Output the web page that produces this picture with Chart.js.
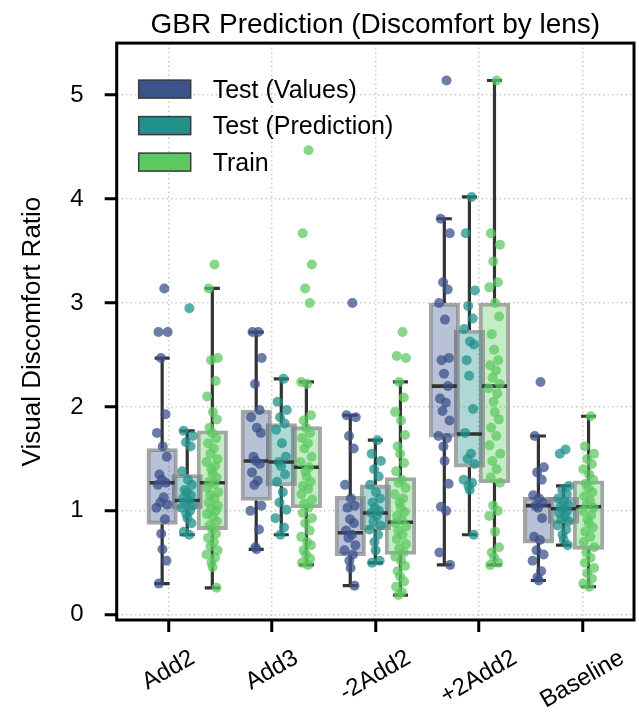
<!DOCTYPE html>
<html>
<head>
<meta charset="utf-8">
<script src="https://cdn.jsdelivr.net/npm/chart.js@4.4.1/dist/chart.umd.min.js"></script>
<style>
html,body{margin:0;padding:0;background:#ffffff;}
#wrap{width:639px;height:720px;position:relative;}
</style>
</head>
<body>
<div id="wrap"><canvas id="c" width="639" height="720"></canvas></div>
<script>
// ---------------- DATA ----------------
const TITLE = 'GBR Prediction (Discomfort by lens)';
const Y_LABEL = 'Visual Discomfort Ratio';
const CATEGORIES = ['Add2', 'Add3', '-2Add2', '+2Add2', 'Baseline'];
const HUES = ['Test (Values)', 'Test (Prediction)', 'Train'];
const Y_TICKS = [0, 1, 2, 3, 4, 5];

// box statistics per category: [whisker low, q1, median, q3, whisker high]
const boxValues = [
  [0.30, 0.87, 1.27, 1.60, 2.47],
  [0.63, 1.10, 1.48, 1.97, 2.72],
  [0.28, 0.57, 0.79, 1.14, 1.92],
  [0.48, 1.71, 2.20, 3.00, 3.81],
  [0.33, 0.69, 1.05, 1.13, 1.72]
];
const boxPrediction = [
  [0.77, 1.02, 1.10, 1.35, 1.77],
  [0.77, 1.24, 1.47, 1.84, 2.27],
  [0.50, 0.82, 0.98, 1.25, 1.68],
  [0.77, 1.42, 1.74, 2.74, 4.02],
  [0.67, 0.88, 1.02, 1.13, 1.24]
];
const boxTrain = [
  [0.26, 0.82, 1.27, 1.77, 3.14],
  [0.48, 1.03, 1.42, 1.81, 2.24],
  [0.19, 0.58, 0.89, 1.32, 2.24],
  [0.48, 1.27, 2.20, 3.00, 5.14],
  [0.27, 0.63, 1.04, 1.29, 1.91]
];

// individual observations per category
const pointsValues = [
  [3.14, 2.72, 2.72, 2.47, 1.93, 1.75, 1.62, 1.52, 1.35, 1.30, 1.27, 1.25, 1.13, 1.08, 1.06, 1.03, 0.92, 0.78, 0.63, 0.52, 0.30],
  [2.72, 2.72, 2.47, 2.22, 1.97, 1.90, 1.80, 1.75, 1.52, 1.48, 1.45, 1.37, 1.29, 1.25, 1.05, 1.00, 0.82, 0.65, 0.63],
  [3.00, 1.92, 1.90, 1.72, 1.60, 1.25, 1.12, 1.05, 1.03, 0.92, 0.88, 0.81, 0.77, 0.74, 0.67, 0.62, 0.58, 0.52, 0.45, 0.28],
  [5.14, 3.81, 3.67, 3.20, 3.13, 3.00, 2.84, 2.47, 2.45, 2.32, 2.20, 2.08, 2.04, 1.96, 1.87, 1.72, 1.70, 1.62, 1.48, 1.26, 1.04, 1.00, 0.60, 0.48],
  [2.24, 1.72, 1.42, 1.37, 1.30, 1.15, 1.12, 1.08, 1.05, 1.03, 0.93, 0.75, 0.72, 0.62, 0.58, 0.52, 0.42, 0.36, 0.33]
];
const pointsPrediction = [
  [2.95, 1.77, 1.72, 1.66, 1.62, 1.38, 1.30, 1.25, 1.20, 1.18, 1.15, 1.12, 1.10, 1.08, 1.05, 1.03, 1.00, 0.97, 0.93, 0.88, 0.80, 0.77],
  [2.27, 2.05, 1.97, 1.90, 1.84, 1.78, 1.65, 1.52, 1.47, 1.43, 1.35, 1.28, 1.18, 1.08, 1.01, 0.93, 0.84, 0.77],
  [1.68, 1.55, 1.48, 1.40, 1.33, 1.25, 1.18, 1.12, 1.08, 1.03, 1.00, 0.98, 0.95, 0.90, 0.86, 0.82, 0.77, 0.70, 0.62, 0.52, 0.50],
  [4.02, 3.67, 3.12, 2.97, 2.85, 2.75, 2.63, 2.60, 2.45, 2.30, 1.98, 1.75, 1.55, 1.50, 1.45, 1.30, 1.27, 1.24, 1.20, 0.77],
  [1.59, 1.55, 1.24, 1.20, 1.16, 1.12, 1.09, 1.06, 1.04, 1.02, 1.00, 0.98, 0.95, 0.92, 0.90, 0.86, 0.82, 0.77, 0.72, 0.67]
];
const pointsTrain = [
  [3.37, 3.14, 2.47, 2.45, 2.25, 2.10, 1.95, 1.88, 1.80, 1.75, 1.70, 1.65, 1.60, 1.55, 1.50, 1.47, 1.43, 1.40, 1.36, 1.32, 1.28, 1.26, 1.22, 1.18, 1.15, 1.12, 1.08, 1.05, 1.02, 1.00, 0.97, 0.94, 0.90, 0.86, 0.82, 0.78, 0.74, 0.70, 0.66, 0.62, 0.58, 0.55, 0.50, 0.46, 0.26],
  [4.47, 3.67, 3.37, 3.14, 3.00, 2.24, 2.22, 1.92, 1.87, 1.80, 1.75, 1.70, 1.65, 1.60, 1.52, 1.47, 1.42, 1.38, 1.33, 1.28, 1.24, 1.21, 1.16, 1.11, 1.07, 1.03, 0.98, 0.93, 0.88, 0.81, 0.75, 0.70, 0.67, 0.62, 0.58, 0.54, 0.50, 0.48],
  [2.72, 2.49, 2.47, 2.24, 2.09, 1.95, 1.87, 1.73, 1.62, 1.55, 1.46, 1.38, 1.30, 1.27, 1.22, 1.16, 1.12, 1.08, 1.03, 0.99, 0.95, 0.91, 0.88, 0.85, 0.81, 0.77, 0.73, 0.68, 0.64, 0.60, 0.56, 0.52, 0.47, 0.42, 0.37, 0.32, 0.27, 0.22, 0.19],
  [5.14, 3.67, 3.56, 3.40, 3.20, 3.15, 3.00, 2.87, 2.70, 2.55, 2.45, 2.40, 2.35, 2.28, 2.22, 2.18, 2.13, 2.05, 1.95, 1.88, 1.80, 1.72, 1.63, 1.55, 1.48, 1.40, 1.32, 1.27, 1.05, 1.00, 0.95, 0.80, 0.65, 0.60, 0.55, 0.50, 0.48],
  [1.91, 1.62, 1.55, 1.50, 1.45, 1.40, 1.35, 1.30, 1.26, 1.22, 1.18, 1.14, 1.10, 1.06, 1.03, 1.00, 0.96, 0.92, 0.88, 0.84, 0.80, 0.75, 0.70, 0.65, 0.60, 0.55, 0.50, 0.45, 0.40, 0.35, 0.30, 0.27]
];

// ---------------- STYLE ----------------
const FONT = "'Liberation Sans', Arial, Helvetica, sans-serif";
const COLORS = [[59, 82, 139], [33, 145, 140], [94, 201, 98]];
const rgba = (c, a) => `rgba(${c[0]},${c[1]},${c[2]},${a})`;
const GROUP_WIDTH = 0.8;
const SLOT = GROUP_WIDTH / HUES.length;
const HUE_OFFSET = HUES.map((_, k) => (k - (HUES.length - 1) / 2) * SLOT);
const CAP_HALF = 0.08;
const MED_HALF = SLOT / 2;
const BOX_PX = 30.5;
// fixed strip-plot spread pattern (visual spread only)
const SPREAD = [0.35, -0.6, 0.9, -0.2, 0.55, -0.85, 0.1, 0.75, -0.45, -0.05, 0.6, -0.7, 0.25, -0.3, 0.85, -0.95, 0.45, -0.15, 0.05, 0.7, -0.55, 0.3, -0.8, 0.95, -0.35];
const SPREAD_WIDTH = 0.065;

const BOXES = [boxValues, boxPrediction, boxTrain];
const POINTS = [pointsValues, pointsPrediction, pointsTrain];

const datasets = [];
HUES.forEach((hue, k) => {
  // boxes (q1..q3) as floating bars
  datasets.push({
    type: 'bar', label: hue,
    data: BOXES[k].map((b, i) => ({x: i + HUE_OFFSET[k], y: [b[1], b[3]]})),
    backgroundColor: rgba(COLORS[k], 0.36),
    borderColor: 'rgba(140,140,140,0.78)',
    borderWidth: 3.2, borderSkipped: false,
    grouped: false, barThickness: BOX_PX,
    xAxisID: 'x2', yAxisID: 'y', order: 3
  });
});
HUES.forEach((hue, k) => {
  // whiskers and caps
  const seg = [];
  BOXES[k].forEach((b, i) => {
    const c = i + HUE_OFFSET[k];
    seg.push({x: c, y: b[0]}, {x: c, y: b[1]}, {x: c, y: null});
    seg.push({x: c, y: b[3]}, {x: c, y: b[4]}, {x: c, y: null});
    seg.push({x: c - CAP_HALF, y: b[0]}, {x: c + CAP_HALF, y: b[0]}, {x: c, y: null});
    seg.push({x: c - CAP_HALF, y: b[4]}, {x: c + CAP_HALF, y: b[4]}, {x: c, y: null});
  });
  datasets.push({
    type: 'line', label: hue + ' whiskers', data: seg,
    borderColor: '#333333', borderWidth: 3.2, pointRadius: 0,
    spanGaps: false, fill: false, tension: 0, borderCapStyle: 'butt',
    xAxisID: 'x2', yAxisID: 'y', order: 2
  });
  // medians
  const med = [];
  BOXES[k].forEach((b, i) => {
    const c = i + HUE_OFFSET[k];
    med.push({x: c - MED_HALF, y: b[2]}, {x: c + MED_HALF, y: b[2]}, {x: c, y: null});
  });
  datasets.push({
    type: 'line', label: hue + ' medians', data: med,
    borderColor: '#333333', borderWidth: 3.6, pointRadius: 0,
    spanGaps: false, fill: false, tension: 0, borderCapStyle: 'butt',
    xAxisID: 'x2', yAxisID: 'y', order: 2
  });
});
HUES.forEach((hue, k) => {
  const pts = [];
  POINTS[k].forEach((arr, i) => {
    arr.forEach((v, j) => {
      pts.push({x: i + HUE_OFFSET[k] + SPREAD[j % SPREAD.length] * SPREAD_WIDTH, y: v});
    });
  });
  datasets.push({
    type: 'scatter', label: hue + ' points', data: pts,
    backgroundColor: rgba(COLORS[k], 0.75), borderWidth: 0,
    pointRadius: 5, pointHoverRadius: 5,
    xAxisID: 'x2', yAxisID: 'y', order: 1
  });
});

const legendPlugin = {
  id: 'insideLegend',
  afterDatasetsDraw(chart) {
    const ctx = chart.ctx, a = chart.chartArea;
    ctx.save();
    HUES.forEach((hue, k) => {
      const cy = a.top + 46 + k * 36.5;
      const x0 = a.left + 22;
      ctx.fillStyle = rgba(COLORS[k], 1);
      ctx.fillRect(x0, cy - 9, 52, 18);
      ctx.strokeStyle = '#3a3a3a';
      ctx.lineWidth = 1.5;
      ctx.strokeRect(x0, cy - 9, 52, 18);
      ctx.fillStyle = '#000';
      ctx.font = `25px ${FONT}`;
      ctx.textBaseline = 'alphabetic';
      ctx.textAlign = 'left';
      ctx.fillText(hue, a.left + 96, cy + 8.8);
    });
    ctx.restore();
  }
};
const xLabelPlugin = {
  id: 'xLabels',
  afterDraw(chart) {
    const ctx = chart.ctx, sx = chart.scales.x, a = chart.chartArea;
    const ang = 30 * Math.PI / 180;
    ctx.save();
    ctx.font = `24px ${FONT}`;
    ctx.fillStyle = '#000';
    ctx.textAlign = 'center';
    ctx.textBaseline = 'middle';
    sx.ticks.forEach((t, i) => {
      const label = sx.getLabelForValue(t.value);
      const w = ctx.measureText(label).width;
      const h = 24 * 0.8;
      const ext = w * Math.sin(ang) + h * Math.cos(ang);
      const cx = sx.getPixelForTick(i);
      const cy = a.bottom + 28 + ext / 2;
      ctx.save();
      ctx.translate(cx, cy);
      ctx.rotate(-ang);
      ctx.fillText(label, 0, 0);
      ctx.restore();
    });
    ctx.restore();
  }
};
const framePlugin = {
  id: 'frame',
  afterDraw(chart) {
    const ctx = chart.ctx, a = chart.chartArea;
    ctx.save();
    ctx.strokeStyle = '#000';
    ctx.lineWidth = 3;
    ctx.strokeRect(a.left, a.top, a.right - a.left, a.bottom - a.top);
    ctx.restore();
  }
};

const gridStyle = {
  color: '#c9c9c9', lineWidth: 1.5,
  drawTicks: true, tickLength: 12, tickColor: '#000', tickWidth: 3, tickBorderDash: []
};

new Chart(document.getElementById('c'), {
  data: {labels: CATEGORIES, datasets},
  plugins: [legendPlugin, xLabelPlugin, framePlugin],
  options: {
    responsive: false, animation: false, devicePixelRatio: 1,
    layout: {padding: {left: 0, right: 3, top: 0, bottom: 0}},
    plugins: {
      legend: {display: false},
      tooltip: {enabled: false},
      title: {
        display: true, text: TITLE, fullSize: false, color: '#000',
        font: {family: FONT, size: 28, weight: 'normal'},
        padding: {top: 8, bottom: 1.5}
      }
    },
    scales: {
      x: {
        type: 'category', labels: CATEGORIES, offset: true, position: 'bottom',
        grid: Object.assign({offset: false}, gridStyle),
        border: {display: false, dash: [1.5, 3]},
        ticks: {display: false, autoSkip: false},
        afterFit: s => { s.height = 100; }
      },
      x2: {type: 'linear', min: -0.5, max: 4.5, display: false},
      y: {
        type: 'linear', min: -0.05, max: 5.5, position: 'left',
        afterBuildTicks: s => { s.ticks = Y_TICKS.map(v => ({value: v})); },
        grid: gridStyle,
        border: {display: false, dash: [1.5, 3]},
        ticks: {color: '#000', font: {family: FONT, size: 24}, padding: 21, callback: v => String(v)},
        title: {display: true, text: Y_LABEL, color: '#000', font: {family: FONT, size: 26}, padding: {top: 17, bottom: 0}},
        afterFit: s => { s.width = 116.7; }
      }
    }
  }
});
</script>
</body>
</html>
